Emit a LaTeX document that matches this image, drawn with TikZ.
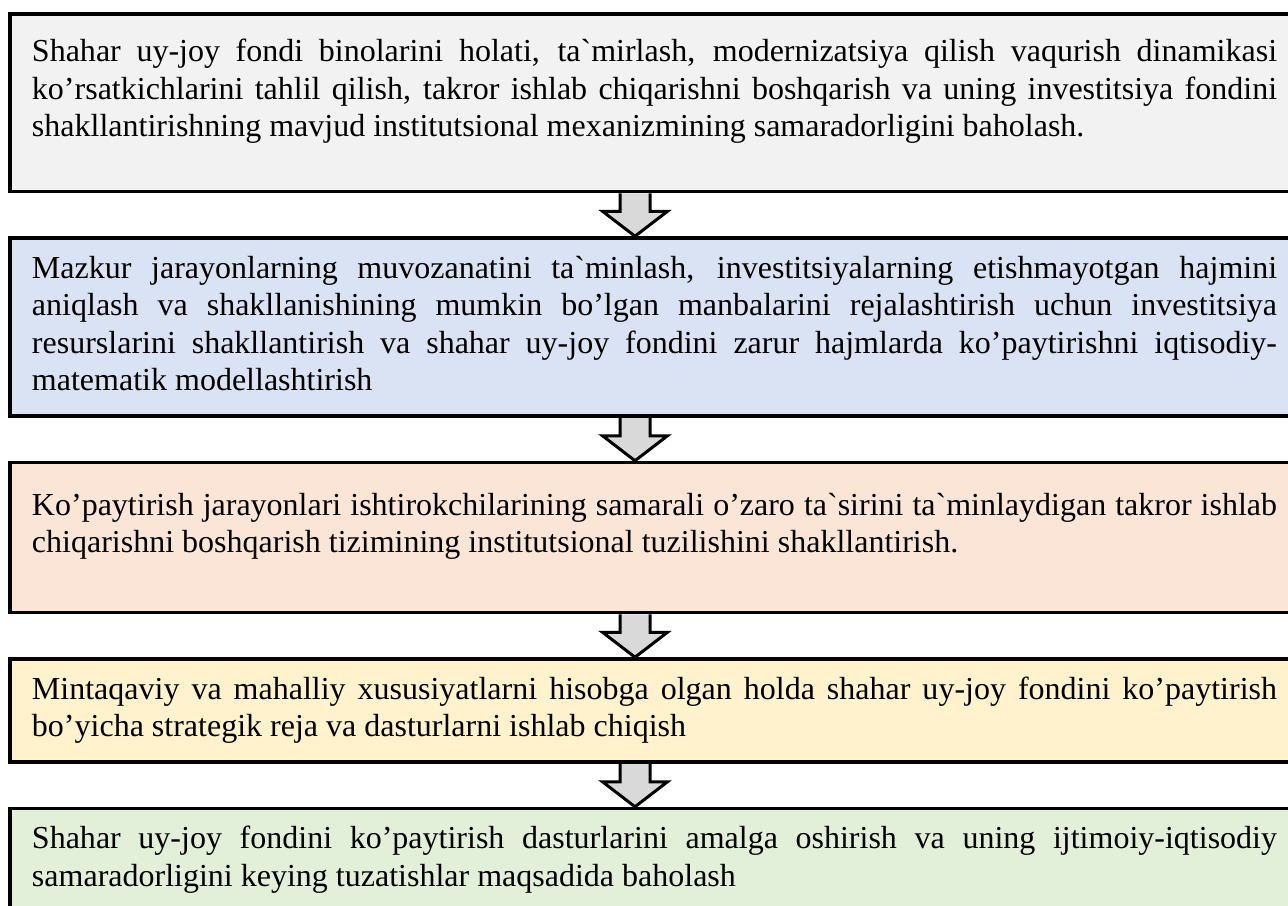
\documentclass[tikz,border=0pt]{standalone}
\usepackage{xcolor}
\definecolor{Grey}{HTML}{F2F2F2}
\definecolor{Blue}{HTML}{DAE3F3}
\definecolor{Peach}{HTML}{FBE5D6}
\definecolor{Cream}{HTML}{FFF2CC}
\definecolor{Mint}{HTML}{E2F0D9}
\definecolor{Shade}{HTML}{D9D9D9}
\colorlet{palegrey}{Grey}
\colorlet{paleblue}{Blue}
\colorlet{palepeach}{Peach}
\colorlet{palecream}{Cream}
\colorlet{palemint}{Mint}
\colorlet{arrowgrey}{Shade}
\usepackage{fontspec}
\newfontfamily\boxfont{Liberation Serif}
\usepackage{tikz}
\usetikzlibrary{positioning,calc,backgrounds}
\hyphenpenalty=10000
\newcommand{\tallstrut}{\rule{0pt}{17pt}}
\newcommand{\stagearrow}[2]{%
  \coordinate (#1-top) at ([xshift=-9.75pt]#1.south);
  \coordinate (#1-tip) at (#1-top |- #2.north);
  \draw[blockarrow] ([xshift=-7.5pt]#1-top) -- ([xshift=-7.5pt,yshift=12.5pt]#1-tip) -- ([xshift=-16.25pt,yshift=12.5pt]#1-tip) -- (#1-tip) -- ([xshift=16.25pt,yshift=12.5pt]#1-tip) -- ([xshift=7.5pt,yshift=12.5pt]#1-tip) -- ([xshift=7.5pt]#1-top);}

\begin{document}
\begin{tikzpicture}[node distance=21.5pt, every node/.style={font={\boxfont\fontsize{16pt}{18.75pt}\selectfont},align=justify},
  stage/.style={draw=black,line width=1.75pt,text width=622.5pt,inner xsep=11pt,inner ysep=7pt},
  blockarrow/.style={draw=black,fill=arrowgrey,line width=1.5pt,line join=miter}]
\useasboundingbox (0,0) rectangle (644pt,-452.5pt);
\clip (0,0) rectangle (644pt,-452.5pt);
\node[stage,fill=palegrey,anchor=north] (tahlil) at (327.25pt,-6pt) {\tallstrut Shahar uy-joy fondi binolarini holati, ta`mirlash, modernizatsiya qilish vaqurish dinamikasi\linebreak ko’rsatkichlarini tahlil qilish, takror ishlab chiqarishni boshqarish va uning investitsiya fondini\linebreak shakllantirishning mavjud institutsional mexanizmining samaradorligini baholash.\\[-4pt]\strut};
\node[stage,fill=paleblue,below=of tahlil] (model) {\strut Mazkur jarayonlarning muvozanatini ta`minlash, investitsiyalarning etishmayotgan hajmini\linebreak aniqlash va shakllanishining mumkin bo’lgan manbalarini rejalashtirish uchun investitsiya\linebreak resurslarini shakllantirish va shahar uy-joy fondini zarur hajmlarda ko’paytirishni iqtisodiy-\linebreak matematik modellashtirish\strut};
\node[stage,fill=palepeach,minimum height=75pt,below=of model] (tizim) {\tallstrut Ko’paytirish jarayonlari ishtirokchilarining samarali o’zaro ta`sirini ta`minlaydigan takror ishlab\linebreak chiqarishni boshqarish tizimining institutsional tuzilishini shakllantirish.\\[-4pt]\strut};
\node[stage,fill=palecream,below=of tizim] (reja) {\strut Mintaqaviy va mahalliy xususiyatlarni hisobga olgan holda shahar uy-joy fondini ko’paytirish\linebreak bo’yicha strategik reja va dasturlarni ishlab chiqish\strut};
\node[stage,fill=palemint,below=of reja] (baho) {\strut Shahar uy-joy fondini ko’paytirish dasturlarini amalga oshirish va uning ijtimoiy-iqtisodiy\linebreak samaradorligini keying tuzatishlar maqsadida baholash\strut};
\begin{scope}[on background layer]
\fill[white] (0,0) rectangle (644pt,-452.5pt);
\stagearrow{tahlil}{model}
\stagearrow{model}{tizim}
\stagearrow{tizim}{reja}
\stagearrow{reja}{baho}
\end{scope}
\end{tikzpicture}
\end{document}
